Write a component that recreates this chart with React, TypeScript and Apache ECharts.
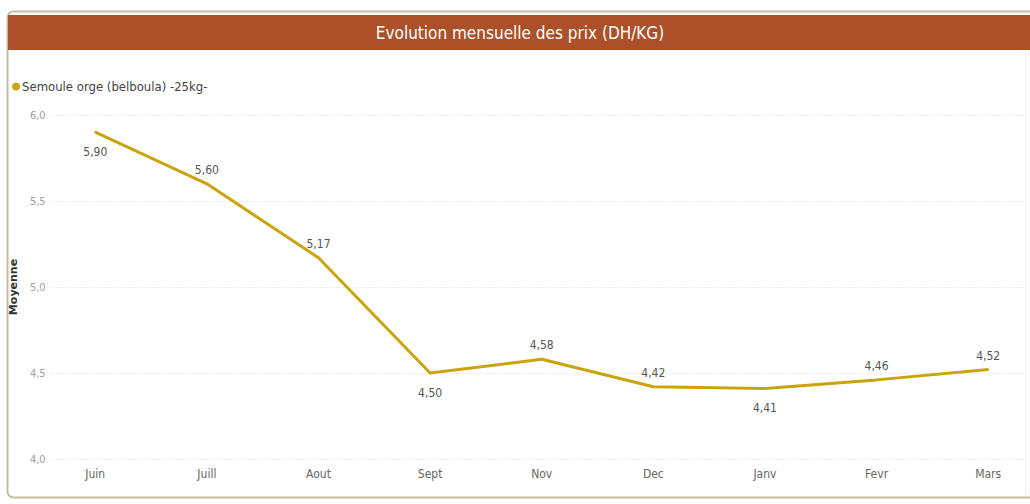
import React, { useEffect, useRef } from "react";
import * as echarts from "echarts";

const months = ["Juin", "Juill", "Aout", "Sept", "Nov", "Dec", "Janv", "Fevr", "Mars"];
const prices = [5.9, 5.6, 5.17, 4.5, 4.58, 4.42, 4.41, 4.46, 4.52];
const labelSides = ["bottom", "top", "top", "bottom", "top", "top", "bottom", "top", "top"];
const seriesName = "Semoule orge (belboula) -25kg-";
const chartTitle = "Evolution mensuelle des prix (DH/KG)";

const NARROW = "'Liberation Sans Narrow', 'DejaVu Sans Condensed', 'Open Sans', sans-serif";
const fmt = (v: number, d: number) => v.toFixed(d).replace(".", ",");
const LINE = "#c9a40e";

export default function App() {
  const ref = useRef<HTMLDivElement>(null);
  useEffect(() => {
    document.body.style.margin = "0";
    const chart = echarts.init(ref.current!, null, { renderer: "svg" });
    chart.setOption({
      animation: false,
      backgroundColor: "#ffffff",
      graphic: [
        {
          type: "rect",
          shape: { x: 7.5, y: 11.5, width: 1060, height: 486, r: 6 },
          style: { fill: "#ffffff", stroke: "#c4bca6", lineWidth: 2 },
          z: -10,
        },
        {
          type: "line",
          shape: { x1: 1025.5, y1: 50, x2: 1025.5, y2: 494 },
          style: { stroke: "#f0eee8", lineWidth: 1 },
          z: -9,
        },
        {
          type: "rect",
          shape: { x: 8, y: 15, width: 1030, height: 35 },
          style: { fill: "#ab5028" },
          z: -5,
        },
        {
          type: "text",
          x: 520,
          y: 33,
          style: {
            text: chartTitle,
            fill: "#ffffff",
            fontSize: 17,
            fontFamily: NARROW,
            align: "center",
            verticalAlign: "middle",
          },
        },
      ],
      legend: {
        left: 7,
        top: 75,
        icon: "circle",
        itemWidth: 8,
        itemHeight: 8,
        itemGap: 4,
        textStyle: { fontSize: 13, color: "#444", fontFamily: NARROW, padding: [0, 0, 0, -3] },
        data: [{ name: seriesName, itemStyle: { color: LINE, opacity: 1 } }],
      },
      grid: { left: 45, right: 5, top: 115, bottom: 45 },
      xAxis: {
        type: "value",
        min: -0.4,
        max: 8.33,
        splitLine: { show: false },
        axisLine: { show: false },
        axisTick: { show: false },
        axisLabel: {
          customValues: months.map((_, i) => i),
          formatter: (v: number) => months[Math.round(v)] ?? "",
          color: "#666",
          fontSize: 12,
          fontFamily: NARROW,
          margin: 9,
        },
      },
      yAxis: {
        type: "value",
        min: 4,
        max: 6,
        interval: 0.5,
        name: "Moyenne",
        nameLocation: "middle",
        nameGap: 22,
        nameTextStyle: { fontSize: 11, fontWeight: "bold", color: "#333", fontFamily: "'DejaVu Sans', sans-serif" },
        axisLine: { show: false },
        axisTick: { show: false },
        axisLabel: {
          formatter: (v: number) => fmt(v, 1),
          color: "#a0a0a0",
          fontSize: 11,
          fontFamily: NARROW,
          margin: 5,
        },
        splitLine: { lineStyle: { color: "#d8d8d8", type: [1, 2], width: 1 } },
      },
      series: [
        {
          name: seriesName,
          type: "line",
          color: LINE,
          showSymbol: true,
          symbol: "circle",
          symbolSize: 2,
          itemStyle: { color: LINE },
          lineStyle: { width: 3, color: LINE },
          label: {
            show: true,
            formatter: (p: any) => fmt(p.value[1], 2),
            color: "#555",
            fontSize: 12,
            fontFamily: NARROW,
            opacity: 1,
          },
          data: prices.map((v, i) => ({
            value: [i, v],
            label: {
              position: labelSides[i],
              distance: labelSides[i] === "bottom" ? 13 : 7,
            },
          })),
        },
      ],
    });
    return () => chart.dispose();
  }, []);
  return <div ref={ref} style={{ width: 1030, height: 504 }} />;
}
